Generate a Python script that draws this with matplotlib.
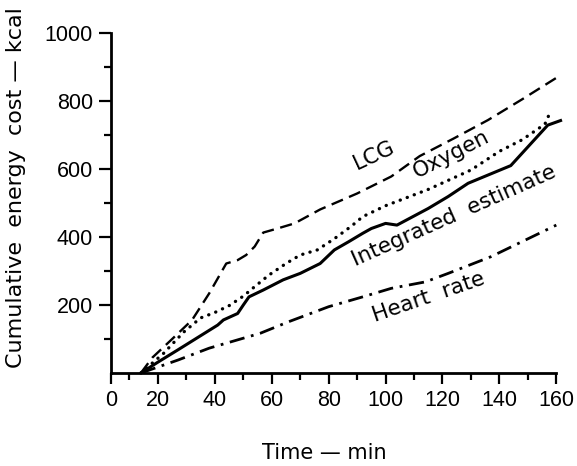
import matplotlib
matplotlib.use("Agg")
import matplotlib.pyplot as plt
from matplotlib.ticker import FixedLocator

plt.rcParams["font.family"] = ["Liberation Sans", "DejaVu Sans"]

# ---- data ----
lcg_t = [14, 18, 25, 32, 38, 44, 48, 51, 54, 57, 62, 68, 77, 90, 102, 112, 124, 136, 148, 160]
lcg_e = [0, 45, 100, 156, 234, 322, 332, 347, 372, 413, 425, 440, 481, 528, 578, 638, 690, 744, 805, 868]

oxy_t = [14, 22, 29, 35, 40, 45, 50, 54, 59, 65, 70, 76, 82, 88, 92, 100, 115, 130, 140, 148, 156, 158]
oxy_e = [0, 58, 120, 162, 178, 198, 226, 254, 288, 322, 347, 362, 395, 432, 460, 492, 540, 597, 652, 686, 732, 770]

int_t = [14, 20, 27, 41, 43, 48, 50, 52, 57, 64, 70, 77, 82, 87, 92, 95, 100, 104, 115, 122, 129, 144, 157, 162]
int_e = [0, 32, 68, 141, 156, 175, 200, 224, 244, 274, 293, 322, 362, 386, 411, 425, 440, 435, 484, 519, 558, 610, 729, 744]

hr_t = [14, 27, 38, 56, 66, 80, 92, 102, 114, 122, 137, 160]
hr_e = [0, 38, 73, 117, 151, 195, 224, 249, 268, 293, 342, 435]

x_major = [3.5, 20, 40, 60, 80, 100, 120, 140, 160]
x_major_labels = ["0", "20", "40", "60", "80", "100", "120", "140", "160"]
x_minor = [10, 30, 50, 70, 90, 110, 130, 150]
y_major = [200, 400, 600, 800, 1000]
y_minor = [100, 300, 500, 700, 900]

fig = plt.figure(figsize=(5.77, 4.66), dpi=100)
ax = fig.add_axes([111/577, 1-373/466, (562-111)/577, (373-33)/466])

ax.plot(lcg_t, lcg_e, color="black", lw=1.7, dashes=(5.2, 2.8), clip_on=False)
ax.plot(oxy_t, oxy_e, color="black", lw=2.4, dashes=(0.05, 2.2), dash_capstyle="round", clip_on=False)
ax.plot(int_t, int_e, color="black", lw=2.2, solid_capstyle="butt", clip_on=False)
ax.plot(hr_t, hr_e, color="black", lw=2.0, dashes=(5.5, 2.4, 1.0, 2.4), clip_on=False)

ax.set_xlim(3.5, 162)
ax.set_ylim(0, 1000)
ax.spines["top"].set_visible(False)
ax.spines["right"].set_visible(False)
ax.spines["bottom"].set_bounds(3.5, 160)
for s in ("left", "bottom"):
    ax.spines[s].set_linewidth(2.0)

ax.xaxis.set_major_locator(FixedLocator(x_major))
ax.set_xticklabels(x_major_labels)
ax.xaxis.set_minor_locator(FixedLocator(x_minor))
ax.yaxis.set_major_locator(FixedLocator(y_major))
ax.yaxis.set_minor_locator(FixedLocator(y_minor))

ax.tick_params(axis="both", which="major", direction="out", width=1.6, labelsize=15.5, pad=4)
ax.tick_params(axis="y", which="major", length=9)
ax.tick_params(axis="x", which="major", length=8)
ax.tick_params(axis="both", which="minor", direction="out", width=1.6, length=5)

lab_font = ["DejaVu Sans"]
ax.set_xlabel("Time \u2014 min", fontsize=15, family=lab_font)
ax.xaxis.set_label_coords(0.472, -0.205)
ax.set_ylabel("Cumulative  energy  cost \u2014 kcal", fontsize=16, family=lab_font)
ax.yaxis.set_label_coords(-0.188, 0.544)

txt_kw = dict(fontsize=15.5, family=lab_font, ha="center", va="center", rotation_mode="anchor")
ax.text(96, 640, "LCG", rotation=25, **txt_kw)
ax.text(123, 642, "Oxygen", rotation=27, **txt_kw)
ax.text(124, 462, "Integrated  estimate", rotation=24, **txt_kw)
ax.text(115, 224, "Heart  rate", rotation=19, **txt_kw)

fig.savefig("out.png", dpi=100)
